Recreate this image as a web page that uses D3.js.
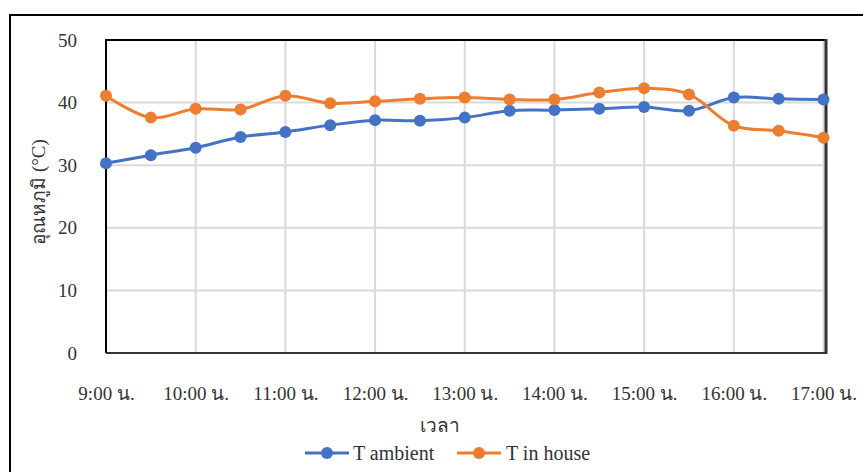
<!DOCTYPE html>
<html>
<head>
<meta charset="utf-8">
<script src="https://cdn.jsdelivr.net/npm/d3@7"></script>
<style>
  html, body { margin: 0; padding: 0; background: #fff; }
  svg { display: block; }
  text { font-family: "Liberation Serif", "Times New Roman", serif; fill: #333; }
</style>
</head>
<body>
<svg id="chart" width="863" height="472"></svg>
<script>
// Half-hourly readings, 9:00 to 17:00
const times = ["9:00","9:30","10:00","10:30","11:00","11:30","12:00","12:30","13:00",
               "13:30","14:00","14:30","15:00","15:30","16:00","16:30","17:00"];
const tAmbient = [30.3, 31.6, 32.8, 34.5, 35.3, 36.4, 37.2, 37.1, 37.6,
                  38.7, 38.8, 39.0, 39.3, 38.7, 40.8, 40.6, 40.5];
const tInHouse = [41.1, 37.6, 39.0, 38.9, 41.1, 39.9, 40.2, 40.6, 40.8,
                  40.5, 40.5, 41.6, 42.3, 41.3, 36.3, 35.5, 34.4];
const hourLabels = ["9:00 น.","10:00 น.","11:00 น.","12:00 น.","13:00 น.",
                    "14:00 น.","15:00 น.","16:00 น.","17:00 น."];
const yTicks = [0, 10, 20, 30, 40, 50];
const seriesNames = ["T ambient", "T in house"];
const seriesColors = ["#4472C4", "#ED7D31"];

const svg = d3.select("#chart");
const plot = { left: 106, right: 823.5, top: 40, bottom: 353 };
const fontSize = 19;

const x = d3.scaleLinear().domain([0, times.length - 1]).range([plot.left, plot.right]);
const y = d3.scaleLinear().domain([0, 50]).range([plot.bottom, plot.top]);

// outer chart frame
svg.append("path")
  .attr("d", `M10,480 L10,15 L870,15`)
  .attr("fill", "none").attr("stroke", "#000").attr("stroke-width", 2);

// gridlines
const grid = svg.append("g");
grid.selectAll("line.h").data(yTicks.slice(1)).join("line")
  .attr("x1", plot.left).attr("x2", plot.right + 2)
  .attr("y1", d => y(d)).attr("y2", d => y(d))
  .attr("stroke", "#d9d9d9").attr("stroke-width", 2);
grid.selectAll("line.v").data(d3.range(0, times.length, 2)).join("line")
  .attr("x1", d => x(d)).attr("x2", d => x(d))
  .attr("y1", plot.top).attr("y2", plot.bottom)
  .attr("stroke", "#d9d9d9").attr("stroke-width", 2);

// plot border
svg.append("path")
  .attr("d", `M${plot.left},${plot.bottom} L${plot.left},${plot.top} L${plot.right + 2.5},${plot.top}`)
  .attr("fill", "none").attr("stroke", "#000").attr("stroke-width", 2);
svg.append("line")
  .attr("x1", plot.left).attr("x2", plot.right + 3.5)
  .attr("y1", plot.bottom).attr("y2", plot.bottom)
  .attr("stroke", "#333").attr("stroke-width", 2);
svg.append("line")
  .attr("x1", plot.right + 2.5).attr("x2", plot.right + 2.5)
  .attr("y1", plot.top - 1).attr("y2", plot.bottom + 1)
  .attr("stroke", "#333").attr("stroke-width", 3);

// y axis
const yAxis = d3.axisLeft(y).tickValues(yTicks).tickSize(0).tickPadding(0);
svg.append("g").attr("transform", `translate(77,0)`).call(yAxis)
  .call(g => g.select(".domain").remove())
  .selectAll("text")
  .attr("font-family", "Liberation Serif, serif")
  .attr("font-size", fontSize).attr("fill", "#333").attr("dy", "0.32em");

// x axis labels (hourly)
const xAxis = d3.axisBottom(x)
  .tickValues(d3.range(0, times.length, 2))
  .tickFormat((d, i) => hourLabels[i])
  .tickSize(0).tickPadding(0);
svg.append("g").attr("transform", `translate(0,${plot.bottom + 40})`).call(xAxis)
  .call(g => g.select(".domain").remove())
  .selectAll("text")
  .attr("font-family", "Liberation Serif, serif")
  .attr("font-size", fontSize).attr("fill", "#333").attr("dy", "0.35em");

// axis titles
svg.append("text")
  .attr("transform", `translate(38,192) rotate(-90)`)
  .attr("text-anchor", "middle").attr("dy", "0.35em")
  .attr("font-size", fontSize)
  .text("อุณหภูมิ (°C)");
svg.append("text")
  .attr("x", 440).attr("y", 425).attr("dy", "0.35em")
  .attr("text-anchor", "middle").attr("font-size", fontSize)
  .text("เวลา");

// series
const line = d3.line()
  .x((d, i) => x(i))
  .y(d => y(d))
  .curve(d3.curveCatmullRom.alpha(0.5));

[tAmbient, tInHouse].forEach((vals, k) => {
  const g = svg.append("g");
  g.append("path").datum(vals)
    .attr("d", line)
    .attr("fill", "none")
    .attr("stroke", seriesColors[k])
    .attr("stroke-width", 3)
    .attr("stroke-linejoin", "round");
  g.selectAll("circle").data(vals).join("circle")
    .attr("cx", (d, i) => x(i))
    .attr("cy", d => y(d))
    .attr("r", 6)
    .attr("fill", seriesColors[k]);
});

// legend
const legendItems = [{ x: 305, tx: 353 }, { x: 457, tx: 506 }];
legendItems.forEach((it, k) => {
  const g = svg.append("g").attr("transform", `translate(${it.x},453)`);
  g.append("line").attr("x1", 0).attr("x2", 44).attr("y1", 0).attr("y2", 0)
    .attr("stroke", seriesColors[k]).attr("stroke-width", 3);
  g.append("circle").attr("cx", 22).attr("cy", 0).attr("r", 6).attr("fill", seriesColors[k]);
  svg.append("text").attr("x", it.tx).attr("y", 453).attr("dy", "0.35em")
    .attr("font-size", 20).text(seriesNames[k]);
});
</script>
</body>
</html>
